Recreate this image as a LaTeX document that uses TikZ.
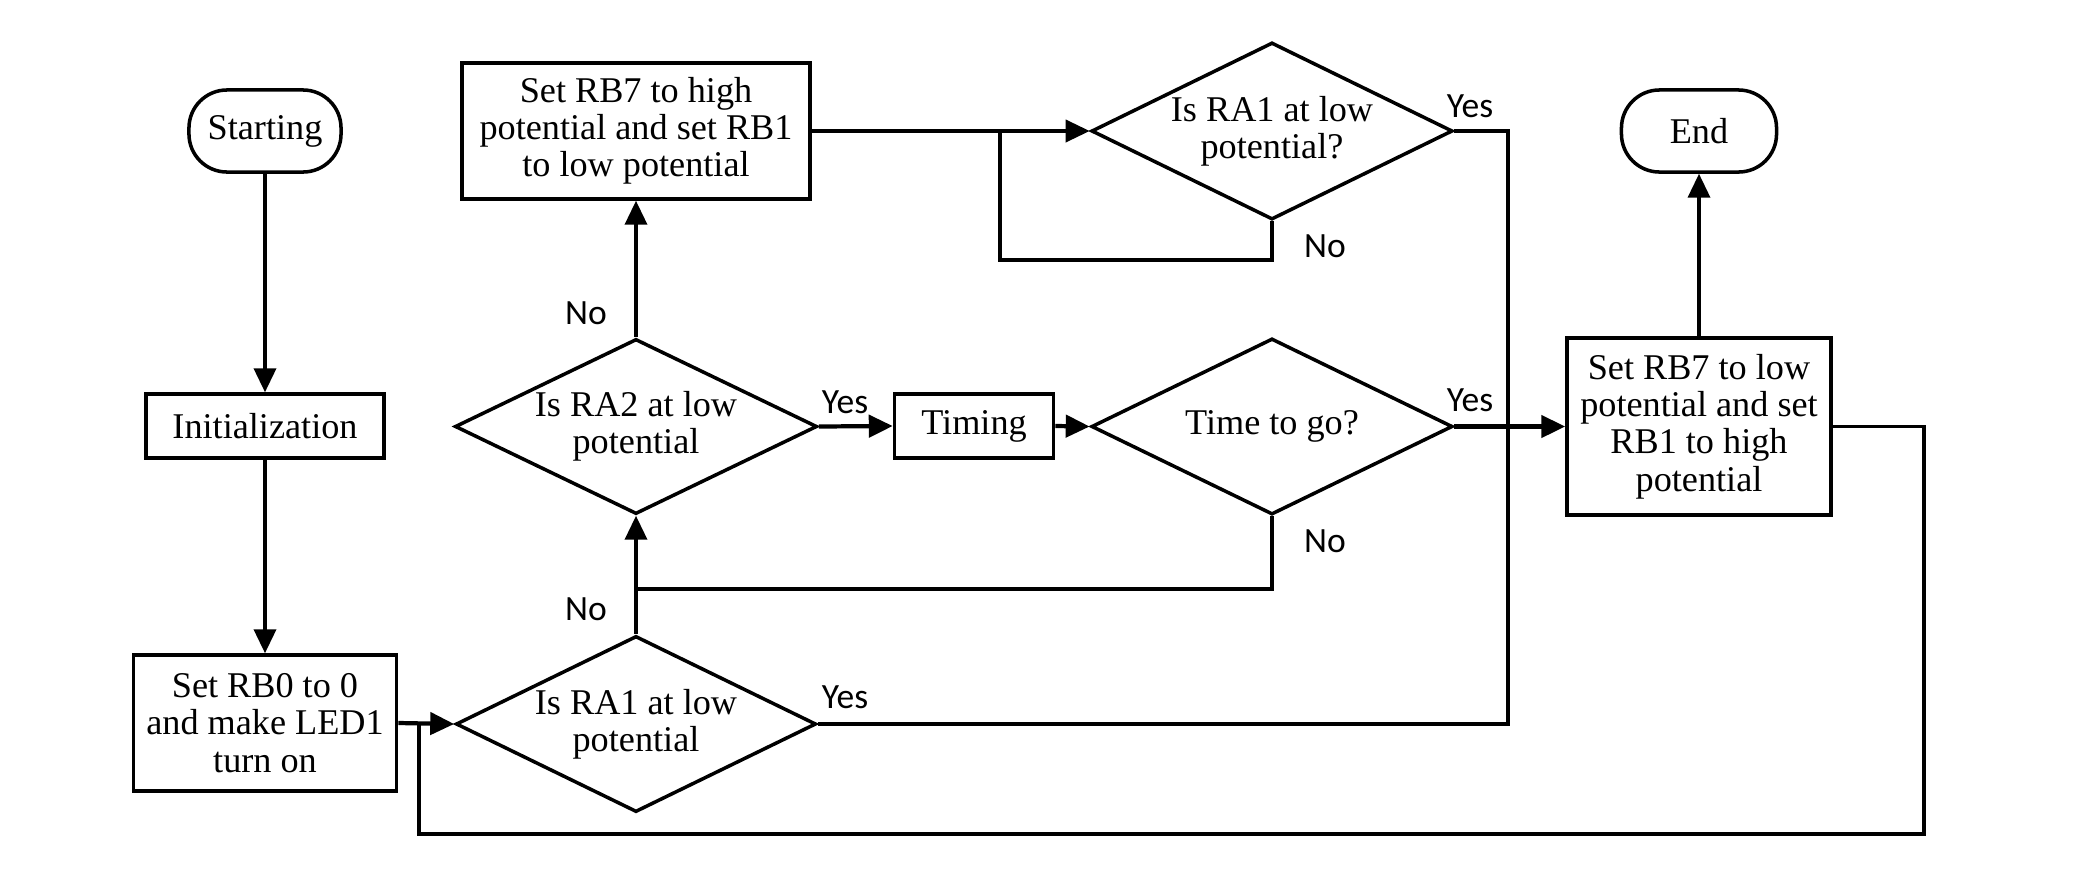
\documentclass[tikz,border=0pt]{standalone}
\usepackage{fontspec}
\setmainfont{Liberation Serif}
\newfontfamily\lblfont{Carlito}
\usetikzlibrary{arrows.meta,shapes.geometric}
\begin{document}
\begin{tikzpicture}[x=0.01cm,y=-0.01cm,
  box/.style={draw,line width=1pt,inner sep=0,align=center,font=\fontsize{10.3}{10.6}\selectfont},
  term/.style={box,rounded corners=0.38cm},
  dia/.style={draw,diamond,line width=1pt,inner sep=0},
  txt/.style={inner sep=0,align=center,font=\fontsize{10.3}{10.6}\selectfont},
  conn/.style={line width=0.9pt},
  thick conn/.style={line width=1.2pt},
  tip/.style={-{Triangle[length=6.8pt,width=6.3pt]}},
  lbl/.style={inner sep=0,font=\lblfont\fontsize{10.1}{12}\selectfont},
]
\useasboundingbox (0,0) rectangle (2078,878);

% terminals and process boxes
\node[term,minimum width=1.52cm,minimum height=0.82cm] (start) at (265,131) {Starting};
\node[term,minimum width=1.55cm,minimum height=0.82cm] (end) at (1699,131) {End};
\node[box,minimum width=2.38cm,minimum height=0.64cm] (init) at (265,426) {Initialization};
\node[box,minimum width=2.63cm,minimum height=1.36cm] (rb0) at (265,723) {Set RB0 to 0\\and make LED1\\turn on};
\node[box,minimum width=3.48cm,minimum height=1.36cm] (rb7h) at (636,131) {Set RB7 to high\\potential and set RB1\\to low potential};
\node[box,minimum width=1.59cm,minimum height=0.64cm] (timing) at (974,426) {Timing};
\node[box,minimum width=2.64cm,minimum height=1.77cm] (rb7l) at (1699,426.5) {Set RB7 to low\\potential and set\\RB1 to high\\potential};

% decisions
\node[dia,minimum width=3.62cm,minimum height=1.75cm] (ra2) at (636,426.5) {};
\node[txt] (ra2t) at (ra2) {Is RA2 at low\\potential};
\node[dia,minimum width=3.60cm,minimum height=1.76cm] (ra1b) at (636,724) {};
\node[txt] (ra1bt) at (ra1b) {Is RA1 at low\\potential};
\node[dia,minimum width=3.61cm,minimum height=1.76cm] (ttg) at (1272,426.5) {};
\node[txt] (ttgt) at (ttg) {Time to go?};
\node[dia,minimum width=3.61cm,minimum height=1.77cm] (ra1t) at (1272,131) {};
\node[txt] (ra1tt) at (ra1t) {Is RA1 at low\\potential?};

% junction coordinates
\coordinate (j1) at (636,589);
\coordinate (c1) at (1272,260);
\coordinate (j2) at (1000,131);
\coordinate (c2) at (1508,131);
\coordinate (c3) at (1508,724);
\coordinate (c4) at (1924,426.5);
\coordinate (c5) at (1924,834);
\coordinate (c6) at (419,834);
\coordinate (c7) at (419,723);

% connectors
\draw[conn,tip] (start) -- (init);
\draw[conn,tip] (init) -- (rb0);
\draw[thick conn,tip] (rb0.east) -- (ra1b.west);
\draw[conn,tip] (ra1b.north) -- (ra2.south);
\draw[conn,tip] (ra2.north) -- (rb7h.south);
\draw[thick conn,tip] (ra2.east) -- (timing.west);
\draw[thick conn,tip] (timing.east) -- (ttg.west);
\draw[thick conn,tip] (ttg.east) -- (rb7l.west);
\draw[conn] (ttg.south) -- (1272,589) -- (j1);
\draw[conn,tip] (rb7h.east) -- (ra1t.west);
\draw[conn] (ra1t.south) -- (c1) -- (1000,260) -- (j2);
\draw[conn] (ra1t.east) -- (c2) -- (c3) -- (ra1b.east);
\draw[conn] (rb7l.east) -- (c4) -- (c5) -- (c6) -- (c7);
\draw[conn,tip] (rb7l.north) -- (end.south);

% labels
\node[lbl] (n1) at (586,313) {No};
\node[lbl] (n2) at (586,609) {No};
\node[lbl] (y1) at (845,402) {Yes};
\node[lbl] (y2) at (1470,400) {Yes};
\node[lbl] (n3) at (1325,541) {No};
\node[lbl] (y3) at (1470,106) {Yes};
\node[lbl] (n4) at (1325,246) {No};
\node[lbl] (y4) at (845,697) {Yes};
\end{tikzpicture}
\end{document}
